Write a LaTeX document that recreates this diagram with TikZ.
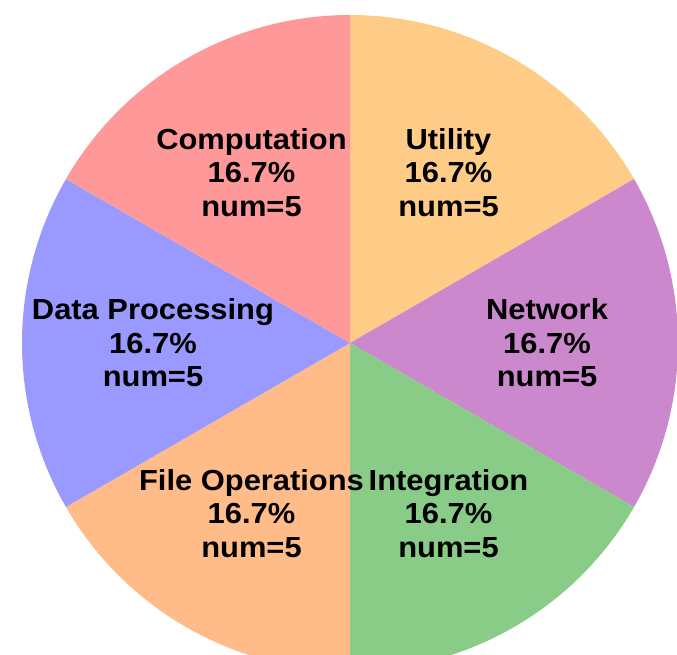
\documentclass[tikz,border=0pt]{standalone}
\usepackage{fontspec}
\setmainfont{Liberation Sans}
\newfontfamily\lblfont[FakeStretch=1.065]{Liberation Sans}
\definecolor{cComp}{HTML}{FF9999}
\definecolor{cUtil}{HTML}{FFCC88}
\definecolor{cNet}{HTML}{CC88CC}
\definecolor{cInt}{HTML}{88CC88}
\definecolor{cFile}{HTML}{FFBB88}
\definecolor{cData}{HTML}{9999FF}
\begin{document}
\begin{tikzpicture}[x=1pt,y=1pt,
  lbl/.style={align=center, font=\lblfont\fontsize{29}{33.5}\selectfont\bfseries, inner sep=0pt}]
\useasboundingbox (0,0) rectangle (677,655);
\clip (0,0) rectangle (677,655);
\coordinate (c) at (350,312);
\def\R{328}
\fill[cUtil] (c) -- ++(30:\R) arc[start angle=30,end angle=90,radius=\R] -- cycle;
\fill[cNet] (c) -- ++(-30:\R) arc[start angle=-30,end angle=30,radius=\R] -- cycle;
\fill[cInt] (c) -- ++(-90:\R) arc[start angle=-90,end angle=-30,radius=\R] -- cycle;
\fill[cFile] (c) -- ++(-150:\R) arc[start angle=-150,end angle=-90,radius=\R] -- cycle;
\fill[cData] (c) -- ++(150:\R) arc[start angle=150,end angle=210,radius=\R] -- cycle;
\fill[cComp] (c) -- ++(90:\R) arc[start angle=90,end angle=150,radius=\R] -- cycle;
\node[lbl] (util) at ([shift={(60:197)}]c) {Utility\\16.7\%\\num=5};
\node[lbl] (net) at ([shift={(0:197)}]c) {Network\\16.7\%\\num=5};
\node[lbl] (int) at ([shift={(-60:197)}]c) {Integration\\16.7\%\\num=5};
\node[lbl] (file) at ([shift={(-120:197)}]c) {File Operations\\16.7\%\\num=5};
\node[lbl] (data) at ([shift={(180:197)}]c) {Data Processing\\16.7\%\\num=5};
\node[lbl] (comp) at ([shift={(120:197)}]c) {Computation\\16.7\%\\num=5};
\end{tikzpicture}
\end{document}
